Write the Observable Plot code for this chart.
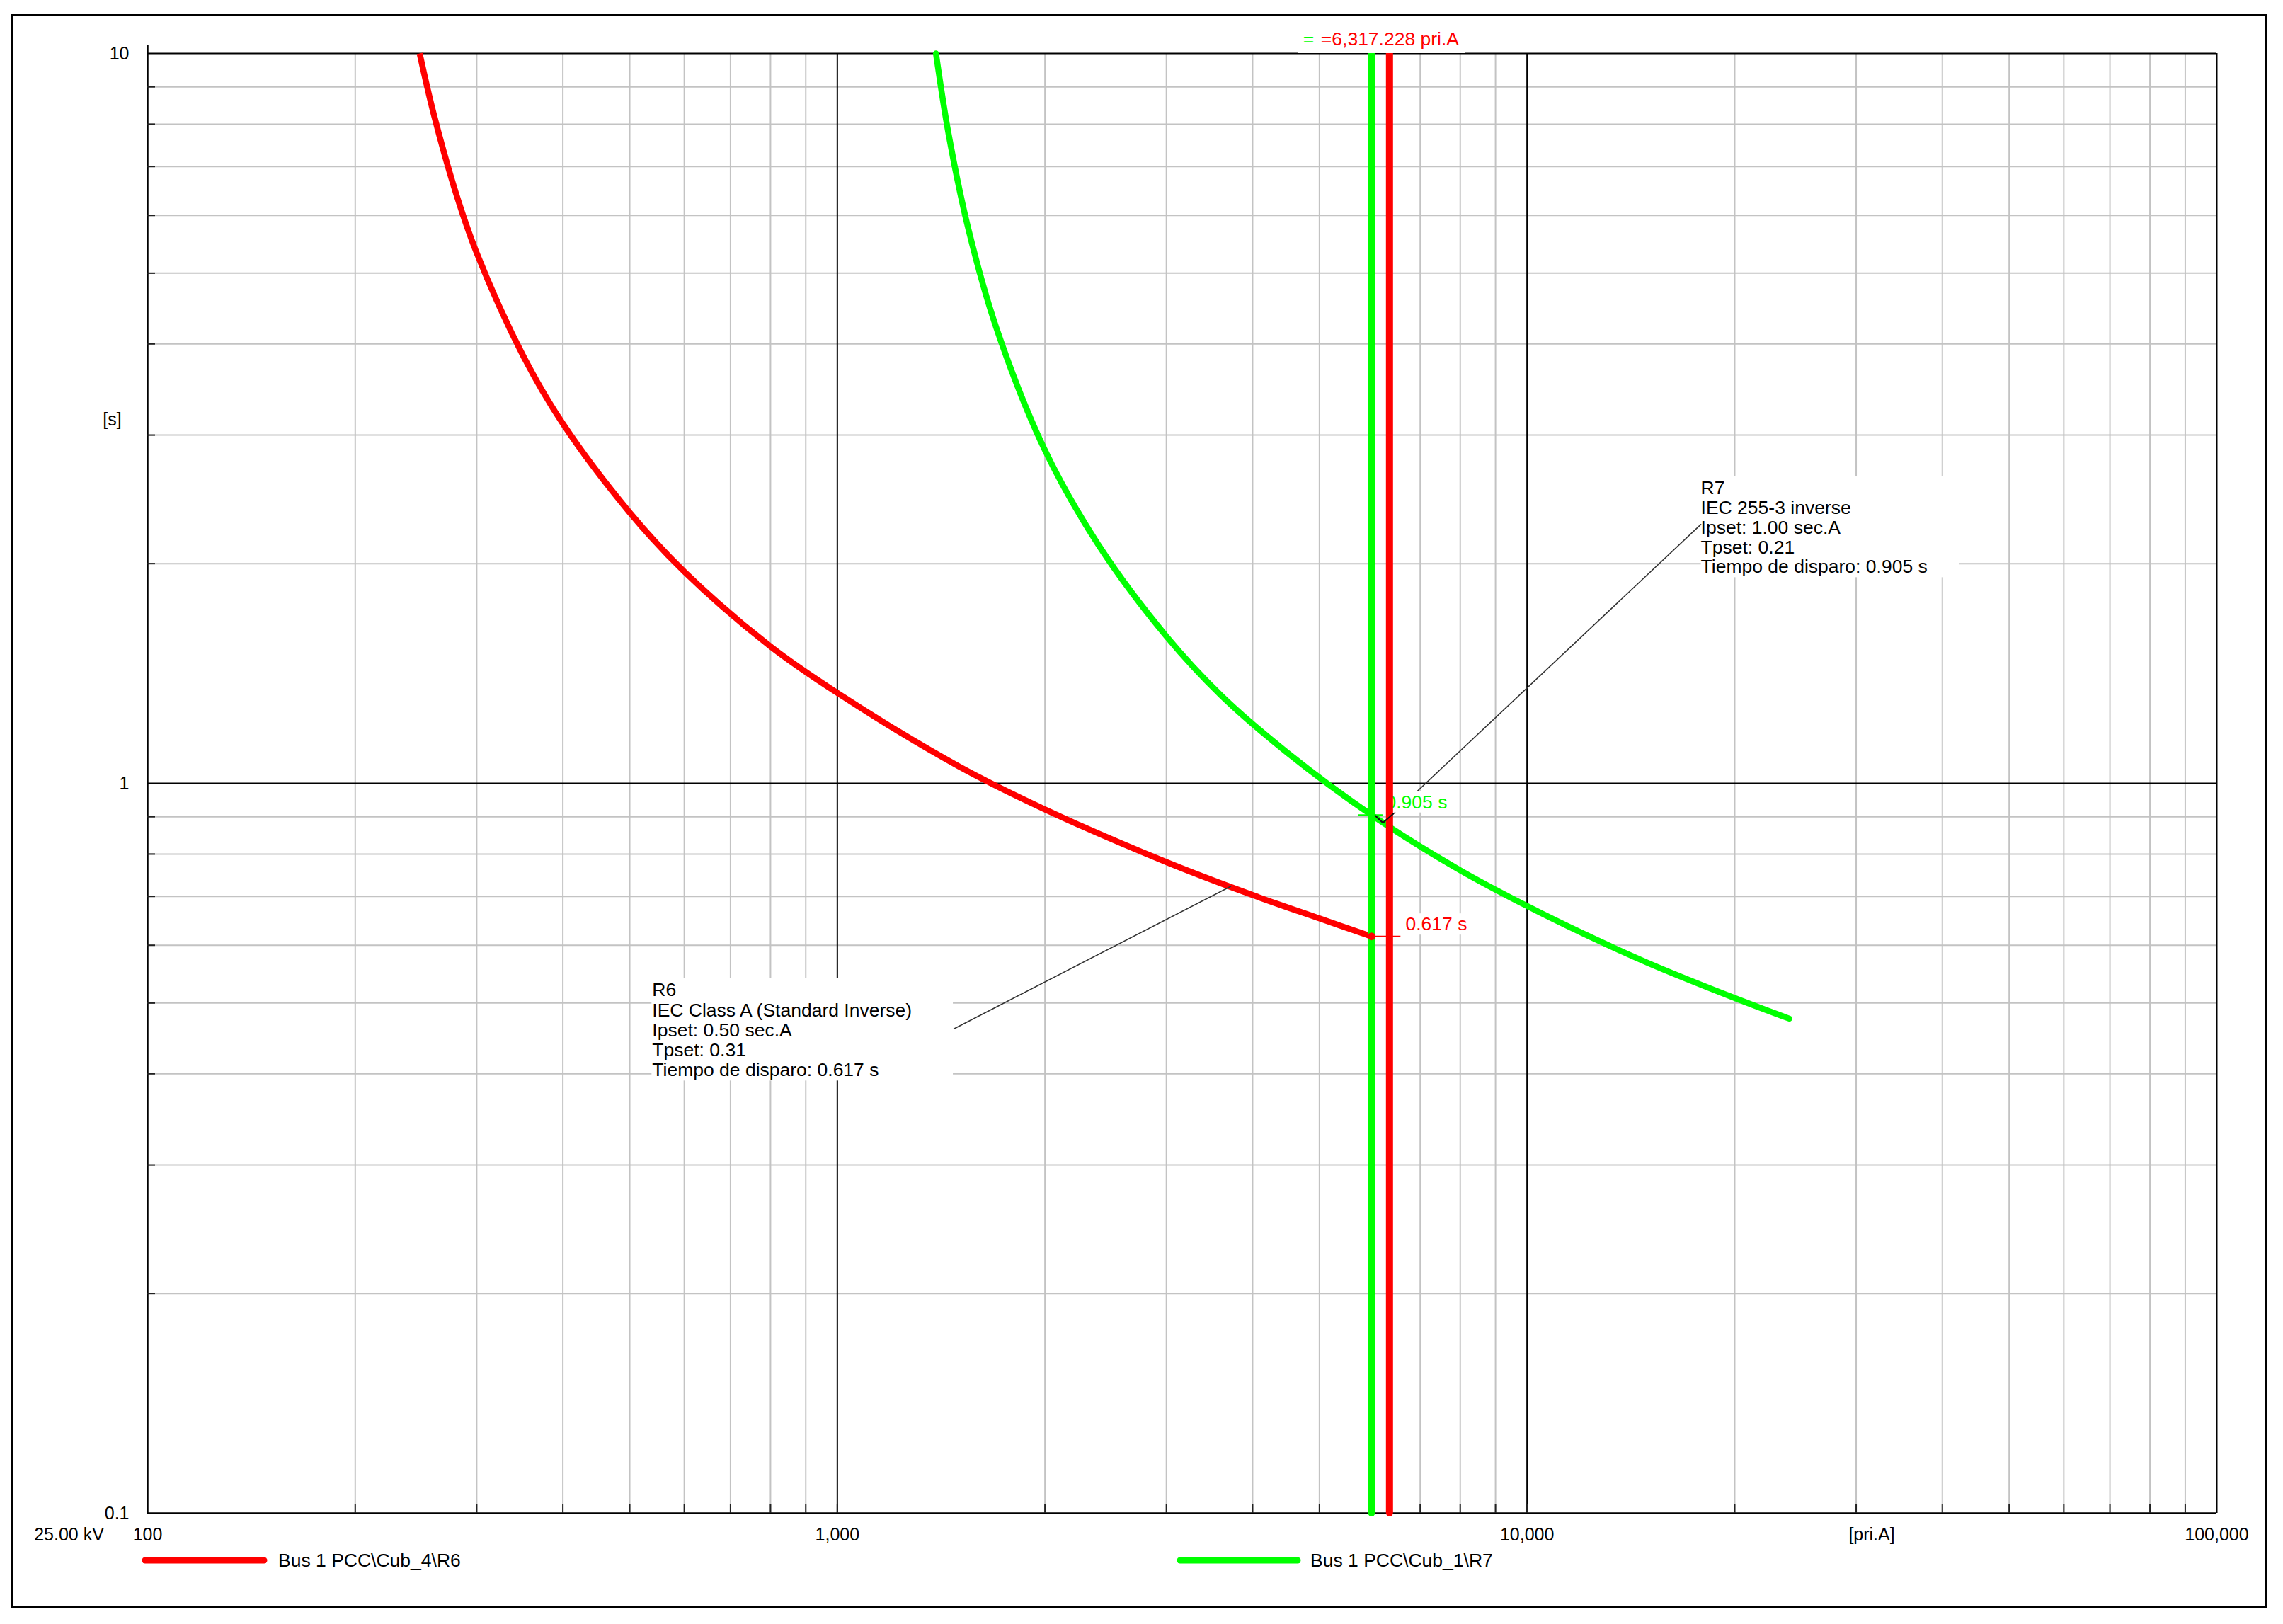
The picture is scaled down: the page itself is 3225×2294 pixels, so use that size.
<!DOCTYPE html>
<html>
<head>
<meta charset="utf-8">
<script src="https://cdn.jsdelivr.net/npm/d3@7"></script>
<script src="https://cdn.jsdelivr.net/npm/@observablehq/plot@0.6"></script>
<style>
  html, body { margin: 0; padding: 0; background: #ffffff; overflow: hidden; }
  #chart svg { display: block; max-width: none !important; }
</style>
</head>
<body>
<div id="chart"></div>
<script>
// ---------------- data ----------------
const r6Current = [248, 260, 280, 300, 350, 400, 500, 600, 800, 1000, 1500, 2000, 3000, 4000, 5000, 5950];
const r6Time    = [10.0, 8.25, 6.43, 5.33, 3.86, 3.11, 2.35, 1.95, 1.54, 1.33, 1.055, 0.921, 0.780, 0.703, 0.653, 0.617];
const r7Current = [1390, 1450, 1550, 1700, 2000, 2400, 3000, 3600, 4500, 5950, 8000, 10000, 12000, 15000, 20000, 24000];
const r7Time    = [10.0, 7.75, 5.73, 4.21, 2.86, 2.11, 1.59, 1.32, 1.10, 0.905, 0.760, 0.679, 0.624, 0.567, 0.508, 0.476];

const faultCurrentR7 = 5950;      // green vertical line
const faultCurrentR6 = 6317.228;  // red vertical line
const tripTimeR6 = 0.617;
const tripTimeR7 = 0.905;

const xMajor = [1000, 10000];
const xMinor = [200, 300, 400, 500, 600, 700, 800, 900, 2000, 3000, 4000, 5000, 6000, 7000, 8000, 9000,
                20000, 30000, 40000, 50000, 60000, 70000, 80000, 90000];
const yMajor = [1];
const yMinor = [0.2, 0.3, 0.4, 0.5, 0.6, 0.7, 0.8, 0.9, 2, 3, 4, 5, 6, 7, 8, 9];

const xTickValues = [100, 1000, 10000, 100000];
const xTickLabels = ["100", "1,000", "10,000", "100,000"];
const yTickValues = [0.1, 1, 10];
const yTickLabels = ["0.1", "1", "10"];

const legendNames = ["Bus 1 PCC\\Cub_4\\R6", "Bus 1 PCC\\Cub_1\\R7"];
const seriesColors = ["#ff0000", "#00ff00"];

const r6Text = "R6\nIEC Class A (Standard Inverse)\nIpset: 0.50 sec.A\nTpset: 0.31\nTiempo de disparo: 0.617 s";
const r7Text = "R7\nIEC 255-3 inverse\nIpset: 1.00 sec.A\nTpset: 0.21\nTiempo de disparo: 0.905 s";
const topLabel = "=6,317.228 pri.A";

// annotation anchors (data space)
const r6TextAnchor = [{I: 539, t: 0.534}];
const r7TextAnchor = [{I: 17860, t: 2.602}];
const r6Leader = [{I: 1476, t: 0.461}, {I: 3719, t: 0.7226}];
const r7Leader = [{I: 17860, t: 2.263}, {I: 6403, t: 0.909}, {I: 6180, t: 0.883}, {I: 6024, t: 0.903}];
const r7Vmark  = [{I: 6403, t: 0.909}, {I: 6180, t: 0.883}, {I: 6024, t: 0.903}];

// ---------------- layout ----------------
const W = 3225, H = 2294;
const mL = 208, mR = 94, mT = 75, mB = 157;
const frameW = W - mL - mR, frameH = H - mT - mB;
const FONT = "'Liberation Sans', Arial, sans-serif";
const FS = 26.5;

const r6 = r6Current.map((I, i) => ({I, t: r6Time[i]}));
const r7 = r7Current.map((I, i) => ({I, t: r7Time[i]}));

const chart = Plot.plot({
  width: W, height: H,
  marginLeft: mL, marginRight: mR, marginTop: mT, marginBottom: mB,
  x: {type: "log", domain: [100, 100000], axis: null},
  y: {type: "log", domain: [0.1, 10], axis: null},
  style: {fontFamily: FONT, background: "white", color: "black"},
  marks: [
    // grid
    Plot.ruleX(xMinor, {stroke: "#c3c3c3", strokeWidth: 2}),
    Plot.ruleY(yMinor, {stroke: "#c3c3c3", strokeWidth: 2}),
    Plot.ruleX(xMajor, {stroke: "#000", strokeWidth: 2}),
    Plot.ruleY(yMajor, {stroke: "#000", strokeWidth: 2}),
    Plot.ruleX([100000], {stroke: "#000", strokeWidth: 2}),
    Plot.ruleY([10], {stroke: "#000", strokeWidth: 2}),
    Plot.ruleY([0.1], {stroke: "#000", strokeWidth: 2.5}),
    Plot.ruleX([100], {stroke: "#000", strokeWidth: 2.5, insetTop: -12}),
    // inner ticks
    Plot.ruleX(xMinor.concat(xMajor), {stroke: "#222", strokeWidth: 2, insetTop: frameH - 12}),
    Plot.ruleY(yMinor, {stroke: "#222", strokeWidth: 2, insetRight: frameW - 11}),
    // annotation blocks
    Plot.text(r6TextAnchor, {x: "I", y: "t", text: () => r6Text, textAnchor: "start", lineAnchor: "top",
      lineHeight: 1.065, fontSize: FS, fill: "#000", fontFamily: FONT, ariaDescription: "r6"}),
    Plot.text(r7TextAnchor, {x: "I", y: "t", text: () => r7Text, textAnchor: "start", lineAnchor: "top",
      lineHeight: 1.05, fontSize: FS, fill: "#000", fontFamily: FONT, ariaDescription: "r7"}),
    // curves
    Plot.line(r6, {x: "I", y: "t", stroke: seriesColors[0], strokeWidth: 8.5, curve: "catmull-rom", strokeLinecap: "butt"}),
    Plot.line(r7, {x: "I", y: "t", stroke: seriesColors[1], strokeWidth: 8.5, curve: "catmull-rom", strokeLinecap: "round"}),
    // leaders
    Plot.line(r6Leader, {x: "I", y: "t", stroke: "#333", strokeWidth: 1.6}),
    Plot.line(r7Leader, {x: "I", y: "t", stroke: "#333", strokeWidth: 1.6}),
    // trip labels
    Plot.text([{I: faultCurrentR7, t: tripTimeR7}], {x: "I", y: "t", text: () => "0.905 s", dx: 20, dy: -18,
      textAnchor: "start", lineAnchor: "middle", fontSize: FS, fill: seriesColors[1], fontFamily: FONT, ariaDescription: "t905"}),
    Plot.text([{I: faultCurrentR7, t: tripTimeR6}], {x: "I", y: "t", text: () => "0.617 s", dx: 48, dy: -17,
      textAnchor: "start", lineAnchor: "middle", fontSize: FS, fill: seriesColors[0], fontFamily: FONT, ariaDescription: "t617"}),
    // vertical fault-current lines
    Plot.ruleX([faultCurrentR7], {stroke: seriesColors[1], strokeWidth: 10, strokeLinecap: "round"}),
    Plot.ruleX([faultCurrentR6], {stroke: seriesColors[0], strokeWidth: 10, strokeLinecap: "round"}),
    // trip markers
    Plot.ruleY([tripTimeR7], {x1: faultCurrentR7, x2: faultCurrentR7, insetLeft: -19, insetRight: -16, stroke: seriesColors[1], strokeWidth: 2}),
    Plot.ruleY([tripTimeR6], {x1: faultCurrentR7, x2: faultCurrentR6, insetRight: -16, stroke: seriesColors[0], strokeWidth: 2}),
    Plot.dot([{I: faultCurrentR7, t: tripTimeR6}], {x: "I", y: "t", r: 5.5, fill: seriesColors[0], stroke: null}),
    Plot.line(r7Vmark, {x: "I", y: "t", stroke: "#111", strokeWidth: 2}),
    // top label
    Plot.text([faultCurrentR6], {x: d => d, frameAnchor: "top", text: () => "=", dx: -122, dy: -20,
      textAnchor: "start", lineAnchor: "middle", fontSize: FS, fill: seriesColors[1], fontFamily: FONT, ariaDescription: "top"}),
    Plot.text([faultCurrentR6], {x: d => d, frameAnchor: "top", text: () => topLabel, dx: -97, dy: -20,
      textAnchor: "start", lineAnchor: "middle", fontSize: FS, fill: seriesColors[0], fontFamily: FONT, ariaDescription: "top"}),
    // axis labels
    Plot.text(xTickValues, {x: d => d, frameAnchor: "bottom", text: (d, i) => xTickLabels[i], dy: 30,
      lineAnchor: "middle", fontSize: 25, fill: "#000", fontFamily: FONT}),
    Plot.text(yTickValues, {y: d => d, frameAnchor: "left", text: (d, i) => yTickLabels[i], dx: -26,
      textAnchor: "end", lineAnchor: "middle", fontSize: 25, fill: "#000", fontFamily: FONT}),
    Plot.text([31600], {x: d => d, frameAnchor: "bottom", text: () => "[pri.A]", dy: 30,
      lineAnchor: "middle", fontSize: 25, fill: "#000", fontFamily: FONT}),
    Plot.text([3.15], {y: d => d, frameAnchor: "left", text: () => "[s]", dx: -50,
      textAnchor: "middle", lineAnchor: "middle", fontSize: 25, fill: "#000", fontFamily: FONT}),
    Plot.text(["25.00 kV"], {frameAnchor: "bottom-left", text: d => d, dx: -111, dy: 30,
      textAnchor: "middle", lineAnchor: "middle", fontSize: 25, fill: "#000", fontFamily: FONT})
  ]
});

document.getElementById("chart").append(chart);

// white boxes behind labelled text groups
const svgSel = d3.select(chart);
const svgRect = chart.getBoundingClientRect();
const pads = {r6: [1, 58, 2, 0], r7: [0, 45, 2, 0], t905: [2, 4, 0, 0], t617: [3, 4, 0, 0], top: [7, 8, 4, 5]};
Object.entries(pads).forEach(([key, p]) => {
  const groups = svgSel.selectAll(`g[aria-description="${key}"]`).nodes();
  if (!groups.length) return;
  let x0 = Infinity, y0 = Infinity, x1 = -Infinity, y1 = -Infinity;
  groups.forEach(g => {
    const b = g.getBoundingClientRect();
    x0 = Math.min(x0, b.left - svgRect.left); y0 = Math.min(y0, b.top - svgRect.top);
    x1 = Math.max(x1, b.right - svgRect.left); y1 = Math.max(y1, b.bottom - svgRect.top);
  });
  const r = document.createElementNS("http://www.w3.org/2000/svg", "rect");
  r.setAttribute("x", x0 - p[0]); r.setAttribute("y", y0 - p[2]);
  r.setAttribute("width", x1 - x0 + p[0] + p[1]); r.setAttribute("height", y1 - y0 + p[2] + p[3]);
  r.setAttribute("fill", "white");
  groups[0].parentNode.insertBefore(r, groups[0]);
});

// outer frame
svgSel.append("rect").attr("x", 17.5).attr("y", 21.5).attr("width", 3184).attr("height", 2248)
  .attr("fill", "none").attr("stroke", "#000").attr("stroke-width", 3);

// legend
const legend = svgSel.append("g").attr("font-family", FONT).attr("font-size", FS).attr("text-anchor", "start");
const legendX = [[205, 373, 393], [1667, 1833, 1851]];
legendNames.forEach((name, i) => {
  const [a, b, tx] = legendX[i];
  legend.append("line").attr("x1", a).attr("x2", b).attr("y1", 2204).attr("y2", 2204)
    .attr("stroke", seriesColors[i]).attr("stroke-width", 9).attr("stroke-linecap", "round");
  legend.append("text").attr("x", tx).attr("y", 2204).attr("dy", "0.35em")
    .attr("text-anchor", "start").attr("fill", "#000").text(name);
});
</script>
</body>
</html>
